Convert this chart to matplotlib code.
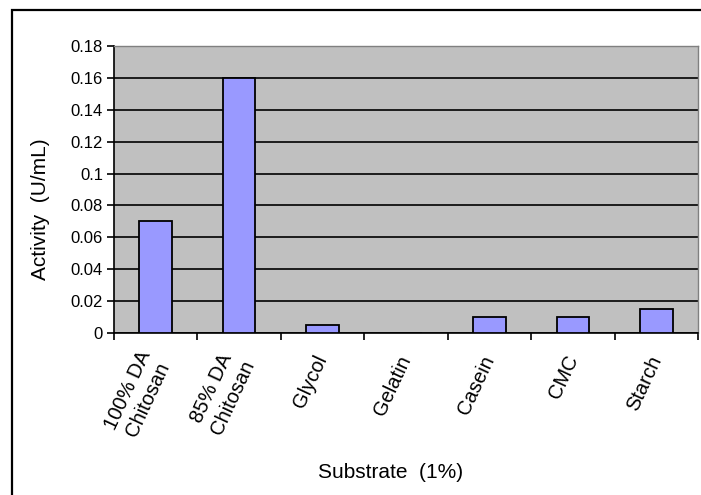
import numpy as np
import matplotlib.pyplot as plt
from matplotlib.patches import Rectangle

substrates = ["100% DA\nChitosan", "85% DA\nChitosan", "Glycol", "Gelatin",
              "Casein", "CMC", "Starch"]
activity = [0.07, 0.16, 0.005, 0.0, 0.01, 0.01, 0.015]
yticks = [0, 0.02, 0.04, 0.06, 0.08, 0.1, 0.12, 0.14, 0.16, 0.18]
ytick_labels = ["0", "0.02", "0.04", "0.06", "0.08", "0.1", "0.12", "0.14", "0.16", "0.18"]

plt.rcParams['font.family'] = ['Liberation Sans', 'DejaVu Sans']

fig = plt.figure(figsize=(7.01, 4.95), dpi=100)
ax = fig.add_axes([114 / 701, 1 - 333 / 495, 584 / 701, 287 / 495])

# chart frame around everything
fig.patches.append(Rectangle((12 / 701, -0.05), 1.0, 1 - 10 / 495 + 0.05,
                             transform=fig.transFigure, fill=False,
                             edgecolor="black", linewidth=1.6))

ax.set_facecolor("#C0C0C0")
x = np.arange(len(substrates))
ax.bar(x, activity, width=0.39, color="#9999FF", edgecolor="black",
       linewidth=1.3, zorder=3)

ax.set_xlim(-0.5, len(substrates) - 0.5)
ax.set_ylim(0, 0.18)
ax.set_yticks(yticks)
ax.set_yticklabels(ytick_labels, fontsize=12)
ax.yaxis.grid(True, color="black", linewidth=1.2, zorder=1)
ax.set_axisbelow(True)

# ticks between categories, labels at centers
ax.set_xticks(np.arange(len(substrates) + 1) - 0.5)
ax.set_xticklabels([])
ax.set_xticks(x, minor=True)
ax.set_xticklabels(substrates, minor=True, fontsize=14.5, rotation=65,
                   ha="right", va="center", rotation_mode="anchor",
                   multialignment="center", linespacing=1.25)
ax.tick_params(axis="x", which="minor", length=0, pad=17)
ax.tick_params(axis="both", which="major", length=5, width=1.2, color="black")
ax.tick_params(axis="y", pad=3)

for side in ["top", "right"]:
    ax.spines[side].set_color("#808080")
    ax.spines[side].set_linewidth(1.0)
for side in ["left", "bottom"]:
    ax.spines[side].set_color("black")
    ax.spines[side].set_linewidth(1.2)

ax.set_ylabel("Activity  (U/mL)", fontsize=15)
ax.yaxis.set_label_coords(-0.11, 0.43)
fig.text(391 / 701, 1 - 472 / 495, "Substrate  (1%)", fontsize=15,
         ha="center", va="center")

fig.savefig("out.png", dpi=100)
